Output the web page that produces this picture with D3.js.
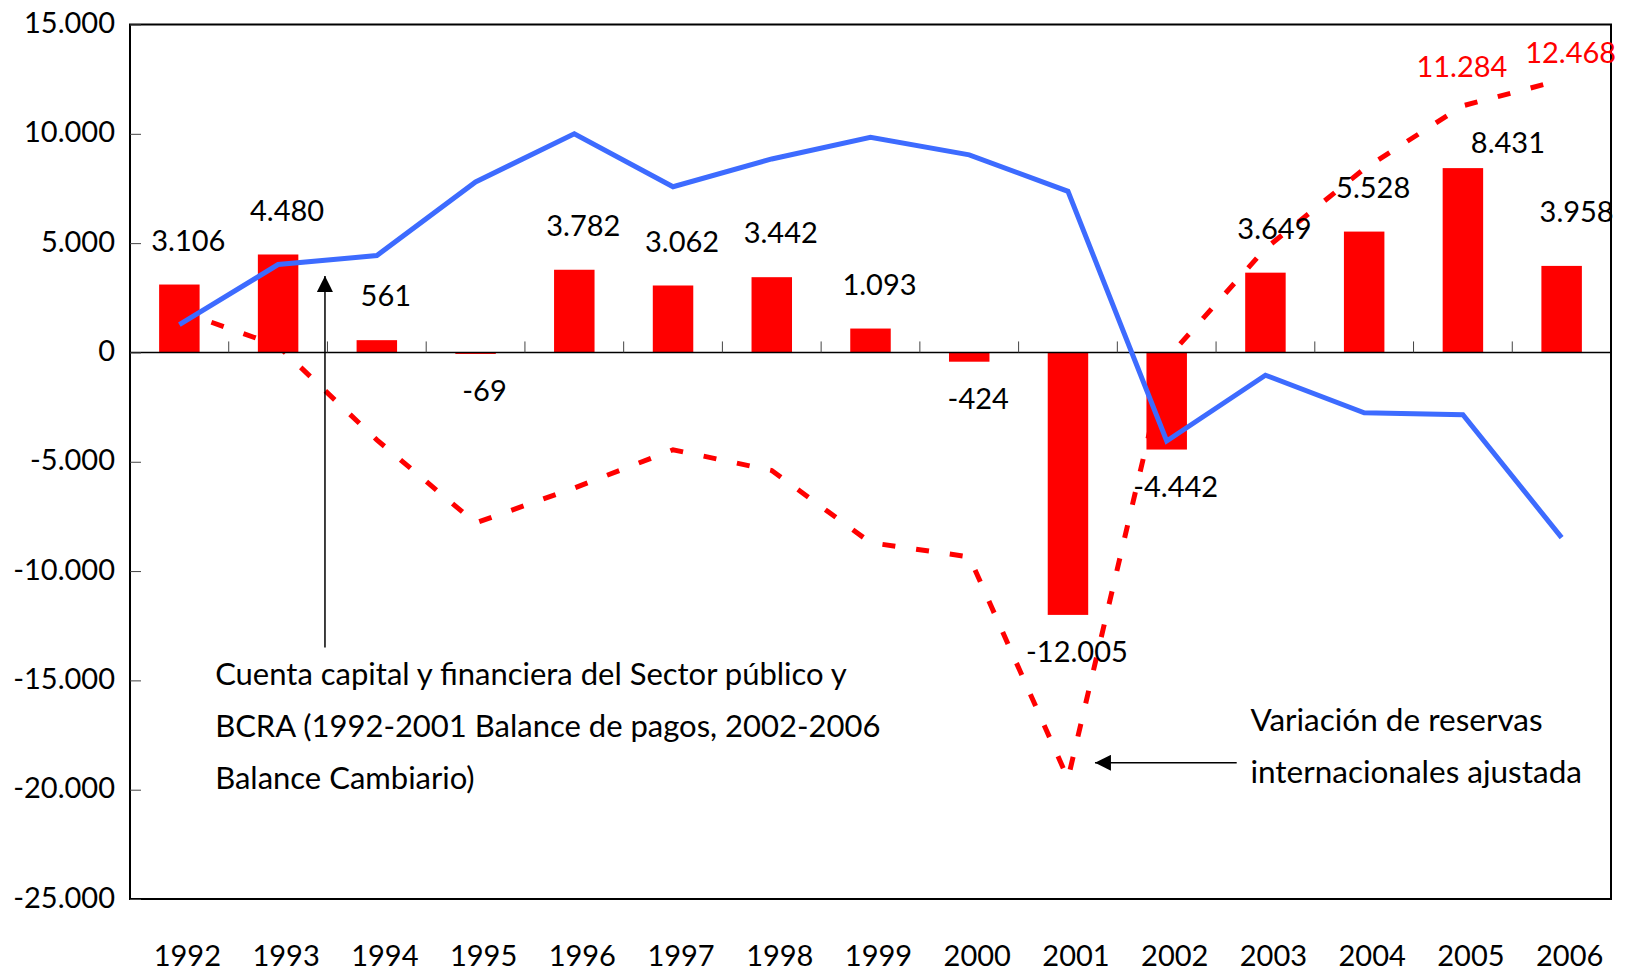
<!DOCTYPE html>
<html>
<head>
<meta charset="utf-8">
<script src="https://cdn.jsdelivr.net/npm/d3@7"></script>
<style>
    body { margin: 0; background: #fff; }
    text { font-family: Lato, "Noto Sans", sans-serif; fill: #000; }
</style>
</head>
<body>
<div class="graph-center"></div>
<script>
// data
let years = ['1992', '1993', '1994', '1995', '1996', '1997', '1998', '1999', '2000', '2001', '2002', '2003', '2004', '2005', '2006']
let barValues = [3106, 4480, 561, -69, 3782, 3062, 3442, 1093, -424, -12005, -4442, 3649, 5528, 8431, 3958]
let cuentaCapital = [1270, 4020, 4430, 7800, 10000, 7580, 8850, 9840, 9040, 7370, -4050, -1040, -2760, -2850, -8470]
let variacionReservas = [1900, 300, -4000, -7800, -6200, -4450, -5400, -8700, -9350, -19500, -300, 4750, 8400, 11284, 12468]
let reservasLabelYears = ['2005', '2006']
let yTicks = [15000, 10000, 5000, 0, -5000, -10000, -15000, -20000, -25000]

// label nudges in px (layout only)
let barLabelNudge = {'2005': [36, 19], '2006': [6, -10]}
let reservasLabelNudge = {'2005': [-1, -39], '2006': [9, -27]}

let svgWidth = 1627
let svgHeight = 976

let margin = {
    left: 130,
    right: 16,
    top: 24.5,
    bottom: 77
}

let height = svgHeight - margin.top - margin.bottom
let width = svgWidth - margin.left - margin.right

let svg = d3.select('.graph-center')
    .append('svg')
    .attr('height', svgHeight)
    .attr('width', svgWidth)
    .append('g')
    .attr("transform", "translate(" + margin.left + "," + margin.top + ")");

// spanish style numbers: 12.468 and -69
let locale = d3.formatLocale({decimal: ',', thousands: '.', grouping: [3], currency: ['$', ''], minus: '-'})
let fmt = locale.format(',d')

let xScale = d3.scaleBand()
    .domain(years)
    .range([0, width])
    .paddingInner(0.59)
    .paddingOuter(0.295)

let yScale = d3.scaleLinear()
    .domain([-25000, 15000])
    .range([height, 0])

let xMid = d => xScale(d) + xScale.bandwidth() / 2

// red dashed line (behind the bars)
let reservasData = years.map((y, i) => ({year: y, value: variacionReservas[i]}))
let line = d3.line()
    .x(d => xMid(d.year))
    .y(d => yScale(d.value))

svg.append('path')
    .attr('d', line(reservasData))
    .attr('fill', 'none')
    .attr('stroke', '#ff0000')
    .attr('stroke-width', 5)
    .attr('stroke-dasharray', '13,21')

// bars
let barData = years.map((y, i) => ({year: y, value: barValues[i]}))
svg.selectAll('.bar')
    .data(barData)
    .join('rect')
    .attr('class', 'bar')
    .attr('x', d => xScale(d.year))
    .attr('width', xScale.bandwidth())
    .attr('y', d => yScale(Math.max(0, d.value)))
    .attr('height', d => Math.abs(yScale(d.value) - yScale(0)))
    .attr('fill', '#ff0000')

// zero line with ticks between the categories
svg.append('line')
    .attr('x1', 0)
    .attr('x2', width)
    .attr('y1', yScale(0))
    .attr('y2', yScale(0))
    .attr('stroke', '#000')
    .attr('stroke-width', 1.5)

svg.selectAll('.xtick')
    .data(years.slice(1))
    .join('line')
    .attr('class', 'xtick')
    .attr('x1', d => xScale(d) - xScale.step() * 0.295)
    .attr('x2', d => xScale(d) - xScale.step() * 0.295)
    .attr('y1', yScale(0))
    .attr('y2', yScale(0) - 11)
    .attr('stroke', '#444')
    .attr('stroke-width', 1)

// blue line
let capitalData = years.map((y, i) => ({year: y, value: cuentaCapital[i]}))
svg.append('path')
    .attr('d', line(capitalData))
    .attr('fill', 'none')
    .attr('stroke', '#3d6bff')
    .attr('stroke-width', 5)
    .attr('stroke-linejoin', 'miter')

// frame
svg.append('rect')
    .attr('x', 0)
    .attr('y', 0)
    .attr('width', width)
    .attr('height', height)
    .attr('fill', 'none')
    .attr('stroke', '#000')
    .attr('stroke-width', 2)

// y axis
let yAxis = d3.axisLeft(yScale)
    .tickValues(yTicks)
    .tickFormat(fmt)
    .tickSizeInner(-11)
    .tickSizeOuter(0)
    .tickPadding(15)

let yG = svg.append("g")
    .attr("id", "y-axis")
    .call(yAxis)
yG.select('.domain').remove()
yG.selectAll('.tick line').attr('stroke', '#444')
yG.selectAll('text')
    .style('font-size', '29px')
    .attr('dy', '0.28em')

// x axis labels at the bottom
let xAxis = d3.axisBottom(xScale)
    .tickSize(0)

let xG = svg.append("g")
    .attr("transform", `translate(0,${height})`)
    .attr("id", "x-axis")
    .call(xAxis)
xG.select('.domain').remove()
xG.selectAll('text')
    .style('font-size', '29px')
    .attr('y', 57)
    .attr('dy', '0.35em')
    .attr('dx', 8)

// bar value labels
svg.selectAll('.bar-label')
    .data(barData)
    .join('text')
    .attr('class', 'bar-label')
    .attr('text-anchor', 'middle')
    .style('font-size', '29px')
    .attr('x', d => xMid(d.year) + 9 + (barLabelNudge[d.year] ? barLabelNudge[d.year][0] : 0))
    .attr('y', d => (d.value >= 0 ? yScale(d.value) - 44 : yScale(d.value) + 37) + (barLabelNudge[d.year] ? barLabelNudge[d.year][1] : 0))
    .attr('dy', '0.35em')
    .text(d => fmt(d.value))

// red labels on the reserves line
svg.selectAll('.res-label')
    .data(reservasData.filter(d => reservasLabelYears.includes(d.year)))
    .join('text')
    .attr('class', 'res-label')
    .attr('text-anchor', 'middle')
    .style('font-size', '29px')
    .style('fill', '#ff0000')
    .attr('x', d => xMid(d.year) + reservasLabelNudge[d.year][0])
    .attr('y', d => yScale(d.value) + reservasLabelNudge[d.year][1])
    .attr('dy', '0.35em')
    .text(d => fmt(d.value))

// annotations
let defs = svg.append('defs')
defs.append('marker')
    .attr('id', 'arrow')
    .attr('viewBox', '0 0 10 10')
    .attr('refX', 10)
    .attr('refY', 5)
    .attr('markerWidth', 16)
    .attr('markerHeight', 16)
    .attr('markerUnits', 'userSpaceOnUse')
    .attr('orient', 'auto')
    .append('path')
    .attr('d', 'M0,0 L10,5 L0,10 z')
    .attr('fill', '#000')

let ax1 = xScale('1994') - xScale.step() * 0.295 - 2.5
svg.append('line')
    .attr('x1', ax1)
    .attr('x2', ax1)
    .attr('y1', yScale(-13500))
    .attr('y2', yScale(3500))
    .attr('stroke', '#000')
    .attr('stroke-width', 1.5)
    .attr('marker-end', 'url(#arrow)')

let note1 = ['Cuenta capital y financiera del Sector público y',
    'BCRA (1992-2001 Balance de pagos, 2002-2006',
    'Balance Cambiario)']
svg.append('text')
    .style('font-size', '31px')
    .selectAll('tspan')
    .data(note1)
    .join('tspan')
    .attr('x', xScale('1992') + 56)
    .attr('y', (d, i) => yScale(-14700) + i * 52)
    .attr('dy', '0.35em')
    .text(d => d)

svg.append('line')
    .attr('x1', xMid('2002') + 70)
    .attr('x2', xMid('2001') + 27)
    .attr('y1', yScale(-18770))
    .attr('y2', yScale(-18770))
    .attr('stroke', '#000')
    .attr('stroke-width', 1.5)
    .attr('marker-end', 'url(#arrow)')

let note2 = ['Variación de reservas', 'internacionales ajustada']
svg.append('text')
    .style('font-size', '31.5px')
    .selectAll('tspan')
    .data(note2)
    .join('tspan')
    .attr('x', xMid('2003') - 15)
    .attr('y', (d, i) => yScale(-16830) + i * 52)
    .attr('dy', '0.35em')
    .text(d => d)
</script>
</body>
</html>
